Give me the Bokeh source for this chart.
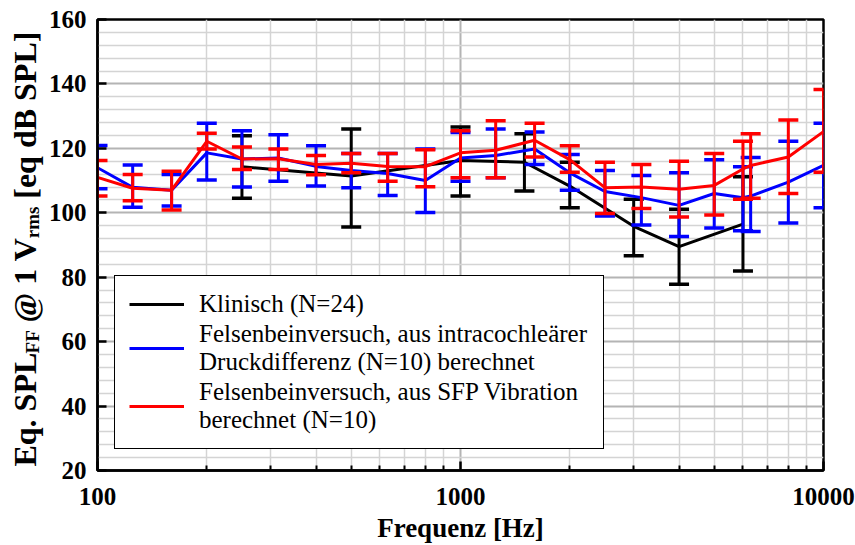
import math
from bokeh.plotting import figure
from bokeh.layouts import row
from bokeh.models import FixedTicker, Legend, LegendItem, Label, PrintfTickFormatter
from bokeh.embed import file_html
from bokeh.resources import INLINE

# ---------------- data ----------------
freq_k = [250, 500, 1000, 1500, 2000, 3000, 4000, 6000]
k_mean = [114.3, 111.4, 116.2, 115.7, 108.3, 95.8, 89.5, 96.5]
k_upper = [123.9, 126.0, 126.6, 124.5, 115.7, 104.2, 101.1, 111.2]
k_lower = [104.5, 95.6, 105.2, 106.8, 101.6, 86.7, 77.8, 81.9]

freq_f = [100, 125, 160, 200, 250, 315, 400, 500, 630, 800, 1000, 1250, 1600,
          2000, 2500, 3150, 4000, 5000, 6000, 6300, 8000, 10000]
b_mean = [114.0, 107.9, 107.0, 118.6, 116.7, 117.0, 114.4, 113.1, 112.2, 110.0, 117.0,
          117.8, 119.8, 112.4, 106.6, 104.7, 102.3, 106.0, 104.7, 105.2, 109.5, 114.7]
b_upper = [120.9, 114.8, 111.9, 127.8, 125.5, 124.2, 120.8, 118.4, 118.4, 119.8, 124.9,
           126.0, 125.1, 118.1, 113.1, 111.6, 112.4, 116.5, 114.3, 117.2, 122.2, 127.8]
b_lower = [107.5, 101.7, 102.1, 110.2, 108.0, 109.8, 108.3, 107.8, 105.4, 100.1, 109.8,
           110.9, 115.0, 107.0, 99.0, 96.2, 92.6, 95.3, 94.4, 94.2, 96.8, 101.6]

r_mean = [111.0, 107.6, 107.0, 122.2, 116.7, 116.8, 115.0, 115.4, 114.4, 114.3, 118.6,
          119.4, 122.5, 116.5, 107.8, 108.0, 107.3, 108.5, 113.6, 114.7, 117.3, 125.2]
r_upper = [116.2, 111.9, 112.9, 124.7, 120.4, 119.8, 117.8, 118.4, 118.4, 119.6, 125.5,
           128.6, 127.8, 120.8, 115.7, 115.0, 116.0, 118.4, 122.2, 124.5, 128.8, 138.3]
r_lower = [105.2, 103.7, 100.9, 119.8, 113.4, 113.4, 111.8, 112.4, 109.8, 108.1, 110.9,
           110.9, 117.3, 112.6, 99.8, 101.3, 98.7, 99.3, 104.2, 104.5, 106.0, 112.6]

labels = ["Klinisch (N=24)",
          "Felsenbeinversuch, aus intracochleärer\nDruckdifferenz (N=10) berechnet",
          "Felsenbeinversuch, aus SFP Vibration\nberechnet (N=10)"]
x_major = [100, 1000, 10000]
y_major = [20, 40, 60, 80, 100, 120, 140, 160]

SERIF = "Liberation Serif"
H = 545
LW = 44          # width of the y-label strip
TOP, BOT = 19, 72  # frame insets (shared by both figures in the row)

# ---------------- main figure ----------------
p = figure(width=855 - LW, height=H, x_axis_type="log", x_range=(100, 10000), y_range=(20, 160),
           output_backend="svg", toolbar_location=None,
           min_border_left=97 - LW, min_border_right=32, min_border_top=TOP, min_border_bottom=BOT)
p.background_fill_color = "white"
p.outline_line_color = "black"
p.outline_line_width = 2.5
p.outline_line_alpha = 1.0

x_minor = [m * d for d in (100, 1000) for m in range(2, 10)]
y_minor = [v for v in range(20, 161, 4) if v % 20 != 0]
p.xaxis.ticker = FixedTicker(ticks=x_major, minor_ticks=x_minor)
p.yaxis.ticker = FixedTicker(ticks=y_major, minor_ticks=y_minor)
p.xaxis.formatter = PrintfTickFormatter(format="%d")

for g in (p.xgrid, p.ygrid):
    g.grid_line_color = "#b4b4b4"
    g.grid_line_width = 2
    g.minor_grid_line_color = "#d4d4d4"
    g.minor_grid_line_width = 1.5

for ax in (p.xaxis, p.yaxis):
    ax.axis_line_width = 2.5
    ax.axis_line_color = "black"
    ax.major_tick_in = 9
    ax.major_tick_out = 0
    ax.major_tick_line_width = 2.5
    ax.major_label_text_font = SERIF
    ax.major_label_text_font_style = "bold"
    ax.major_label_text_font_size = "25px"
    ax.major_label_text_color = "black"

p.xaxis.minor_tick_in = 5
p.xaxis.minor_tick_out = 0
p.xaxis.minor_tick_line_width = 2
p.yaxis.minor_tick_line_color = None
p.xaxis.major_label_standoff = 17
p.yaxis.major_label_standoff = 7

p.xaxis.axis_label = "Frequenz [Hz]"
p.xaxis.axis_label_text_font = SERIF
p.xaxis.axis_label_text_font_style = "bold"
p.xaxis.axis_label_text_font_size = "27px"
p.xaxis.axis_label_text_color = "black"
p.xaxis.axis_label_standoff = 5

# ---------------- series ----------------
def series(freqs, mean, up, lo, color):
    ln = p.line(freqs, mean, line_width=3, line_color=color)
    p.segment(x0=freqs, y0=lo, x1=freqs, y1=up, line_width=3, line_color=color)
    p.scatter(freqs, up, marker="dash", size=20, line_width=3.5, line_color=color)
    p.scatter(freqs, lo, marker="dash", size=20, line_width=3.5, line_color=color)
    return ln

lk = series(freq_k, k_mean, k_upper, k_lower, "#000000")
lb = series(freq_f, b_mean, b_upper, b_lower, "#0000ff")
lr = series(freq_f, r_mean, r_upper, r_lower, "#ff0000")

legend = Legend(items=[LegendItem(label=labels[0], renderers=[lk]),
                       LegendItem(label=labels[1], renderers=[lb]),
                       LegendItem(label=labels[2], renderers=[lr])],
                location=(17, 21), border_line_color="black", border_line_width=1.5,
                border_line_alpha=1.0,
                background_fill_color="white", background_fill_alpha=1.0,
                label_text_font=SERIF, label_text_font_size="25px",
                label_text_line_height=1.16, label_text_color="black",
                glyph_width=55, glyph_height=28, label_height=28, label_standoff=15,
                padding=14, spacing=2, label_width=390, margin=0)
p.add_layout(legend)

# ---------------- y axis label strip (with subscripts) ----------------
# the row aligns frames, so this strip's frame spans page y TOP..H-BOT;
# its y range is chosen so that data y == H - page y
q = figure(width=LW, height=H, x_range=(0, LW), y_range=(BOT, H - TOP), output_backend="svg",
           toolbar_location=None, min_border=0, min_border_left=0, min_border_right=0,
           min_border_top=TOP, min_border_bottom=BOT, x_axis_location=None, y_axis_location=None)
q.outline_line_color = None
q.xgrid.visible = False
q.ygrid.visible = False
q.background_fill_color = "white"
q.border_fill_color = "white"

W = {"E": .667, "q": .556, ".": .25, " ": .25, "S": .556, "P": .611, "L": .667, "F": .611,
     "@": .930, "1": .5, "V": .722, "r": .444, "m": .833, "s": .389, "[": .333, "e": .444,
     "d": .556, "B": .667, "]": .333}
# (text, font size, shift towards the baseline side, gap before it in px)
parts = [("Eq. SPL", 32, 0, 0), ("FF", 19, 8, 0), ("@ 1 V", 32, 0, 8),
         ("rms", 19, 8, 0), ("[eq dB SPL]", 32, 0, 8)]
pos = 469.0  # page y where the label starts (bottom)
base_x = 24  # page x of the main text centre line
for txt, fs, shift, gap in parts:
    pos -= gap
    q.add_layout(Label(x=base_x + shift, y=H - pos, text=txt, angle=math.pi / 2,
                       text_font=SERIF, text_font_style="bold", text_font_size=f"{fs}px",
                       text_align="left", text_baseline="middle", text_color="black"))
    pos -= sum(W.get(c, .5) for c in txt) * fs

layout = row(q, p, spacing=0)
open("out.html", "w").write(file_html(layout, INLINE))
